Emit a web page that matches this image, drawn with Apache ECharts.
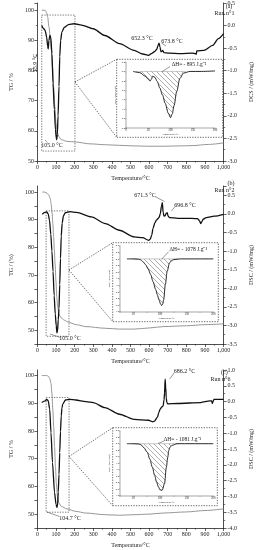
<!DOCTYPE html>
<html><head><meta charset="utf-8">
<script src="https://cdn.jsdelivr.net/npm/echarts@6/dist/echarts.min.js"></script>
<style>html,body{margin:0;padding:0;background:#fff}#c{width:262px;height:550px}</style>
</head><body><div id="c"></div>
<script>
// ---------------- DATA ----------------
// Run n°1 (a)
const tgTempA = [23, 42, 45, 50, 55, 62, 69, 75, 81, 87, 94, 100, 106, 116, 128, 159, 206, 280, 362, 440, 519, 600, 675, 760, 831, 920, 1000];
const tgA     = [100, 100, 99.7, 99, 97.8, 94.5, 91.1, 86.7, 81.2, 74.5, 67.9, 62.4, 59.6, 58, 57.1, 56.5, 56.3, 55.7, 55.4, 55.2, 55, 54.9, 54.9, 55, 55.1, 55.5, 56];
const dscTempA = [23, 34, 42, 50, 55, 58, 62, 67, 72, 78, 84, 91, 97, 101, 104, 107, 111, 116, 120, 125, 131, 144, 167, 198, 237, 300, 362, 441, 519, 566, 597, 612, 628, 641, 648, 653, 658, 664, 669, 673, 680, 706, 769, 831, 850, 853, 856, 894, 941, 972, 1000];
const dscA     = [0.0, -0.07, -0.11, -0.26, -0.45, -0.52, -0.33, -0.22, -0.26, -0.62, -1.28, -1.86, -2.30, -2.48, -2.53, -2.41, -2.0, -1.35, -0.69, -0.33, -0.15, -0.04, 0.02, 0.04, 0.01, -0.07, -0.22, -0.40, -0.55, -0.63, -0.66, -0.62, -0.58, -0.53, -0.44, -0.39, -0.47, -0.58, -0.57, -0.55, -0.60, -0.61, -0.62, -0.61, -0.62, -0.64, -0.56, -0.55, -0.44, -0.29, -0.18];
const insetTempA = [16, 31, 43, 50, 54, 57, 60, 65, 70, 76, 82, 88, 95, 100, 104, 108, 114, 121, 129, 144, 170, 200];
const insetDscA  = [0, -0.05, -0.2, -0.33, -0.41, -0.33, -0.2, -0.25, -0.42, -0.7, -1.0, -1.35, -1.77, -1.96, -1.8, -1.45, -0.85, -0.3, -0.07, 0, 0, 0.02];
const hatchRangeA = [22, 135];
const zoomBoxA = [23.4, 201.6, 53.3, 98.4];   // °C from, °C to, TG low, TG high
const linkPointA = [201.6, 76.2];

// Run n°2 (b)
const tgTempB = [26, 40, 53, 60, 69, 74, 79, 83, 87, 91, 95, 100, 104, 109, 115, 122, 131, 145, 162, 209, 260, 364, 440, 520, 600, 676, 800, 900, 1000];
const tgB     = [100, 100, 99.5, 99, 97.7, 95.5, 92.3, 88.5, 83.9, 79, 74, 67.5, 62, 58.5, 56, 55, 54.3, 53.6, 53, 52, 51.3, 50.7, 50.4, 50.4, 50.8, 51.3, 51.6, 52, 52.3];
const dscTempB = [26, 40, 50, 58, 65, 72, 78, 84, 90, 96, 101, 105, 108, 112, 116, 120, 124, 128, 133, 140, 150, 175, 210, 290, 365, 440, 520, 565, 598, 606, 614, 621, 630, 640, 653, 660, 666, 671, 675, 680, 686, 692, 697, 702, 710, 754, 830, 860, 870, 877, 884, 890, 907, 950, 1000];
const dscB     = [-0.01, 0.04, 0.05, 0.0, -0.17, -0.55, -1.0, -1.55, -2.2, -2.7, -3.0, -3.2, -3.15, -2.85, -2.55, -1.9, -1.2, -0.6, -0.25, -0.05, 0.03, 0.06, 0.04, -0.08, -0.26, -0.44, -0.62, -0.64, -0.71, -0.68, -0.57, -0.39, -0.25, -0.16, -0.1, 0.0, 0.2, 0.3, 0.05, -0.06, -0.05, 0.02, 0.03, -0.06, -0.1, -0.12, -0.12, -0.13, -0.18, -0.26, -0.2, -0.14, -0.1, -0.06, -0.01];
const insetTempB = [38, 50, 60, 64, 68, 73, 78, 82.5, 87, 92, 95, 98, 101, 103, 105, 107, 110, 113.5, 118, 122, 126, 138, 160, 200];
const insetDscB  = [0, 0, -0.02, -0.06, -0.17, -0.35, -0.62, -0.95, -1.38, -1.86, -2.17, -2.47, -2.72, -2.83, -2.75, -2.47, -1.56, -0.75, -0.24, -0.1, -0.04, 0, 0, 0];
const hatchRangeB = [45, 135];
const zoomBoxB = [46.7, 169.6, 47.8, 93.2];
const linkPointB = [169.6, 71.8];

// Run n°6 (c)
const tgTempC = [23, 50, 58, 66, 73, 78, 83, 87.5, 92, 97, 101.6, 108, 115.6, 128, 159, 206, 260, 362, 440, 519, 600, 675, 800, 900, 1000];
const tgC     = [100, 100, 99.8, 99, 97.2, 93.6, 87.6, 81.6, 74.4, 67.2, 61.2, 56.4, 54, 52.8, 51.9, 51, 50.4, 49.8, 49.6, 49.8, 50, 50.4, 50.8, 51.3, 51.9];
const dscTempC = [23, 42, 50, 58, 66, 73, 81, 92, 100, 105, 108, 112, 116, 120, 124, 128, 132, 136, 151, 175, 206, 260, 300, 362, 441, 519, 560, 597, 620, 628, 644, 652, 659, 668, 675, 680, 683, 686, 689, 692, 695, 700, 753, 878, 894, 925, 936, 939, 943, 948, 1000];
const dscC     = [-0.03, 0.02, 0.07, 0.03, -0.24, -0.98, -1.93, -2.87, -3.25, -3.35, -3.3, -2.87, -2.3, -1.61, -0.95, -0.45, -0.2, -0.08, 0.05, 0.07, 0.05, 0.0, -0.03, -0.19, -0.4, -0.56, -0.58, -0.59, -0.64, -0.62, -0.5, -0.35, -0.24, -0.17, -0.14, 0.05, 0.28, 0.71, 0.45, 0.12, -0.03, -0.07, -0.06, -0.03, -0.01, 0.02, 0.02, -0.06, 0.0, 0.07, 0.07];
const insetTempC = [38, 50, 60, 64, 70, 76, 81, 85.6, 90, 93.6, 97, 99.8, 104, 108.5, 112, 114.5, 116.5, 119, 122.8, 132, 160, 200];
const insetDscC  = [0, 0, -0.02, -0.06, -0.25, -0.52, -0.95, -1.44, -1.95, -2.36, -2.65, -2.83, -2.87, -2.46, -1.44, -0.85, -0.41, -0.2, -0.1, 0, 0, 0];
const hatchRangeC = [45, 135];
const zoomBoxC = [47, 170, 50.7, 92.1];
const linkPointC = [170, 70.8];

// Axis tick settings
const xTickStep = 100;
const tgTickStep = 10;
const dscTickStep = 0.5;

// ---------------- LAYOUT / STYLE ----------------
const FONT = '"Liberation Serif","Times New Roman",serif';
const TXT = '#222';
const zip = (a, b) => a.map((v, i) => [v, b[i]]);

const panels = [
  { top: 3, h: 158, tgMin: 50, tgMax: 102.4, dscMin: -3, dscMax: 0.5, tgName: 'TG / %', dscName: 'DCS / (mW/mg)',
    tgT: tgTempA, tg: tgA, dT: dscTempA, d: dscA, iT: insetTempA, iD: insetDscA, hr: hatchRangeA, box: zoomBoxA, link: linkPointA,
    ixMin: 0, ixInt: 50, iyMin: -2.4, iyMax: 0.4,
    frame: { x: 116.7, y: 59.3, w: 106, h: 78 }, ig: { left: 126, top: 62, width: 89, height: 66 } },
  { top: 186, h: 158, tgMin: 45, tgMax: 102.2, dscMin: -3.5, dscMax: 0.75, tgName: 'TG / (%)', dscName: 'DSC / (mW/mg)',
    tgT: tgTempB, tg: tgB, dT: dscTempB, d: dscB, iT: insetTempB, iD: insetDscB, hr: hatchRangeB, box: zoomBoxB, link: linkPointB,
    ixMin: 25, ixInt: 25, iyMin: -3.2, iyMax: 0.8,
    frame: { x: 112.7, y: 242.7, w: 105.6, h: 79 }, ig: { left: 120, top: 245.7, width: 93.3, height: 66 } },
  { top: 370, h: 158, tgMin: 45, tgMax: 102, dscMin: -4, dscMax: 1, tgName: 'TG / %', dscName: 'DSC / (mW/mg)',
    tgT: tgTempC, tg: tgC, dT: dscTempC, d: dscC, iT: insetTempC, iD: insetDscC, hr: hatchRangeC, box: zoomBoxC, link: linkPointC,
    ixMin: 25, ixInt: 25, iyMin: -3.2, iyMax: 0.8,
    frame: { x: 112.7, y: 427.7, w: 104.6, h: 78 }, ig: { left: 120, top: 430.7, width: 93.3, height: 65 } }
];

function hatchCanvas() {
  const c = document.createElement('canvas');
  c.width = 5; c.height = 5;
  const g = c.getContext('2d');
  g.strokeStyle = '#777'; g.lineWidth = 0.6;
  g.beginPath();
  g.moveTo(-1, -1); g.lineTo(6, 6);
  g.moveTo(-1, 4); g.lineTo(1, 6);
  g.moveTo(4, -1); g.lineTo(6, 1);
  g.stroke();
  return c;
}
const pattern = { image: hatchCanvas(), repeat: 'repeat' };

const grid = [], xAxis = [], yAxis = [], series = [];
const lineC = '#222';
panels.forEach((p, i) => {
  grid.push({ left: 23, width: 213, top: p.top, height: p.h, containLabel: false });
  grid.push({ left: p.ig.left, top: p.ig.top, width: p.ig.width, height: p.ig.height, containLabel: false });
  const axisFont = { fontSize: 6, fontFamily: FONT, color: TXT };
  xAxis.push({
    gridIndex: 2 * i, type: 'value', min: 0, max: 1000, interval: xTickStep,
    axisLine: { show: true, onZero: false, lineStyle: { color: lineC, width: 0.8 } },
    axisTick: { show: true, length: 3, lineStyle: { color: lineC, width: 0.7 } },
    minorTick: { show: true, splitNumber: 2, length: 1.6, lineStyle: { color: lineC, width: 0.6 } },
    splitLine: { show: false },
    axisLabel: Object.assign({ margin: 3 }, axisFont),
    name: 'Temperature/°C', nameLocation: 'middle', nameGap: 14, nameTextStyle: axisFont
  });
  xAxis.push({
    gridIndex: 2 * i + 1, type: 'value', min: p.ixMin, max: 200, interval: p.ixInt,
    axisLine: { show: true, onZero: false, lineStyle: { color: lineC, width: 0.4 } },
    axisTick: { show: true, length: 1, lineStyle: { color: lineC, width: 0.3 } },
    splitLine: { show: false },
    axisLabel: { fontSize: 3, fontFamily: FONT, color: TXT, margin: 1.2, formatter: v => (v % 50 === 0 ? String(v) : '') },
    name: 'Temperature/°C', nameLocation: 'middle', nameGap: 4.5, nameTextStyle: { fontSize: 2.6, fontFamily: FONT, color: TXT }
  });
  yAxis.push({
    gridIndex: 2 * i, type: 'value', position: 'left', min: p.tgMin, max: p.tgMax, interval: p.tgMin % 10 === 0 ? tgTickStep : tgTickStep / 2,
    axisLine: { show: true, onZero: false, lineStyle: { color: lineC, width: 0.8 } },
    axisTick: { show: true, length: 3, lineStyle: { color: lineC, width: 0.7 } },
    minorTick: { show: p.tgMin % 10 === 0, splitNumber: 2, length: 1.6, lineStyle: { color: lineC, width: 0.6 } },
    splitLine: { show: false },
    axisLabel: Object.assign({ margin: 3.5, showMaxLabel: false, formatter: v => (Math.abs(v % 10) < 1e-6 ? String(v) : '') }, axisFont),
    name: p.tgName, nameLocation: 'middle', nameGap: 17, nameRotate: 90, nameTextStyle: axisFont
  });
  yAxis.push({
    gridIndex: 2 * i, type: 'value', position: 'right', min: p.dscMin, max: p.dscMax, interval: dscTickStep,
    axisLine: { show: true, onZero: false, lineStyle: { color: lineC, width: 0.8 } },
    axisTick: { show: true, length: 3, lineStyle: { color: lineC, width: 0.7 } },
    minorTick: { show: true, splitNumber: 2, length: 1.6, lineStyle: { color: lineC, width: 0.6 } },
    splitLine: { show: false },
    axisLabel: Object.assign({ margin: 4, showMaxLabel: (p.dscMax / dscTickStep) % 1 === 0, formatter: v => v.toFixed(1) }, axisFont),
    name: p.dscName, nameLocation: 'middle', nameGap: 14, nameRotate: 90, nameTextStyle: axisFont
  });
  yAxis.push({
    gridIndex: 2 * i + 1, type: 'value', min: p.iyMin, max: p.iyMax, interval: 0.4,
    axisLine: { show: true, onZero: false, lineStyle: { color: lineC, width: 0.4 } },
    axisTick: { show: true, length: 1, lineStyle: { color: lineC, width: 0.3 } },
    splitLine: { show: false },
    axisLabel: { fontSize: 2.6, fontFamily: FONT, color: TXT, margin: 1, formatter: v => v.toFixed(1) },
    name: 'DSC / (mW/mg)', nameLocation: 'middle', nameGap: 5, nameRotate: 90, nameTextStyle: { fontSize: 2.6, fontFamily: FONT, color: TXT }
  });

  series.push({
    type: 'line', xAxisIndex: 2 * i, yAxisIndex: 3 * i, data: zip(p.tgT, p.tg), symbol: 'none', smooth: 0.3, smoothMonotone: 'x',
    lineStyle: { color: '#8a8a8a', width: 0.9 }, z: 3,
    markArea: { silent: true, label: { show: false },
      itemStyle: { color: 'rgba(0,0,0,0)', borderColor: '#555', borderWidth: 0.8, borderType: [1.3, 1.3] },
      data: [[{ coord: [p.box[0], p.box[3]] }, { coord: [p.box[1], p.box[2]] }]] }
  });
  series.push({
    type: 'line', xAxisIndex: 2 * i, yAxisIndex: 3 * i + 1, data: zip(p.dT, p.d), symbol: 'none', smooth: 0.25, smoothMonotone: 'x',
    lineStyle: { color: '#111', width: 1.3 }, z: 4
  });
  series.push({
    type: 'line', xAxisIndex: 2 * i + 1, yAxisIndex: 3 * i + 2, data: zip(p.iT, p.iD), symbol: 'none', smooth: 0.3, smoothMonotone: 'x',
    lineStyle: { color: '#111', width: 0.9 }, z: 4
  });
  const hData = zip(p.iT, p.iD).filter(d => d[0] > p.hr[0] && d[0] < p.hr[1]);
  hData.unshift([p.hr[0], 0]); hData.push([p.hr[1], 0]);
  series.push({
    type: 'line', xAxisIndex: 2 * i + 1, yAxisIndex: 3 * i + 2, data: hData, symbol: 'none', smooth: 0.3, smoothMonotone: 'x',
    lineStyle: { width: 0, opacity: 0 }, areaStyle: { color: pattern, origin: 0, opacity: 1 }, z: 2
  });
  series.push({
    type: 'line', xAxisIndex: 2 * i + 1, yAxisIndex: 3 * i + 2, data: [[p.hr[0], 0], [p.hr[1], 0]], symbol: 'none',
    lineStyle: { color: '#777', width: 0.4 }, z: 2
  });
});

const chart = echarts.init(document.getElementById('c'), null, { renderer: 'canvas', width: 262, height: 550 });
chart.setOption({ animation: false, backgroundColor: '#fff', grid, xAxis, yAxis, series });

// ---------------- ANNOTATIONS ----------------
const g = [];
const dash = { stroke: '#444', lineWidth: 0.8, lineDash: [1.3, 1.3], fill: null };
function text(x, y, s, o) {
  o = o || {};
  g.push({ type: 'text', x, y, rotation: o.rot || 0, z: 20,
    style: { text: s, font: (o.size || 6) + 'px ' + FONT, fill: TXT, align: o.align || 'center', verticalAlign: 'middle' } });
}
function line(x1, y1, x2, y2, st) {
  g.push({ type: 'line', z: 20, shape: { x1, y1, x2, y2 }, style: Object.assign({ stroke: '#333', lineWidth: 0.5 }, st || {}) });
}
panels.forEach((p, i) => {
  const f = p.frame;
  g.push({ type: 'rect', z: 15, shape: { x: f.x, y: f.y, width: f.w, height: f.h }, style: Object.assign({}, dash, { fill: 'rgba(0,0,0,0)' }) });
  const pt = chart.convertToPixel({ seriesIndex: 5 * i }, p.link);
  line(pt[0], pt[1], f.x, f.y, dash);
  line(pt[0], pt[1], f.x, f.y + f.h, dash);
});
// panel (a)
text(229, 6, '(a)');
text(234.5, 13.5, 'Run n°1', { align: 'right' });
text(142, 38.7, '652.3 °C');
text(172, 41.7, '673.8 °C');
line(161.5, 43, 166, 46);
text(52, 145, '105.0 °C');
line(45, 140, 47.5, 142.5);
text(35, 63, '55.9 °C', { rot: Math.PI / 2 });
text(189, 64.3, 'ΔH= - 895 J.g⁻¹', { size: 5.5 });
line(170, 66.5, 162, 71.7);
// panel (b)
text(231, 183.5, '(b)');
text(234.5, 190.5, 'Run n°2', { align: 'right' });
text(145, 195, '671.3 °C');
line(155, 196.5, 164.5, 201.5);
text(185, 205, '696.8 °C');
line(175, 206.5, 171.5, 211);
text(70, 338.5, '105.0 °C');
line(50, 334, 60.5, 337.5);
text(188.3, 249.3, 'ΔH= - 1078 J.g⁻¹', { size: 5.5 });
line(168.5, 251.7, 161.7, 259.3);
// panel (c)
text(224.3, 372.3, '(c)');
text(230.5, 379, 'Run n°6', { align: 'right' });
text(184.5, 371.7, '686.2 °C');
line(174, 373, 169.7, 379);
text(70, 518.5, '104.7 °C');
line(47, 512, 59.5, 516.5);
text(182.5, 439.3, 'ΔH= - 1081 J.g⁻¹', { size: 5.5 });
line(164, 441, 158, 443.5);

chart.setOption({ graphic: g });
</script>
</body></html>
